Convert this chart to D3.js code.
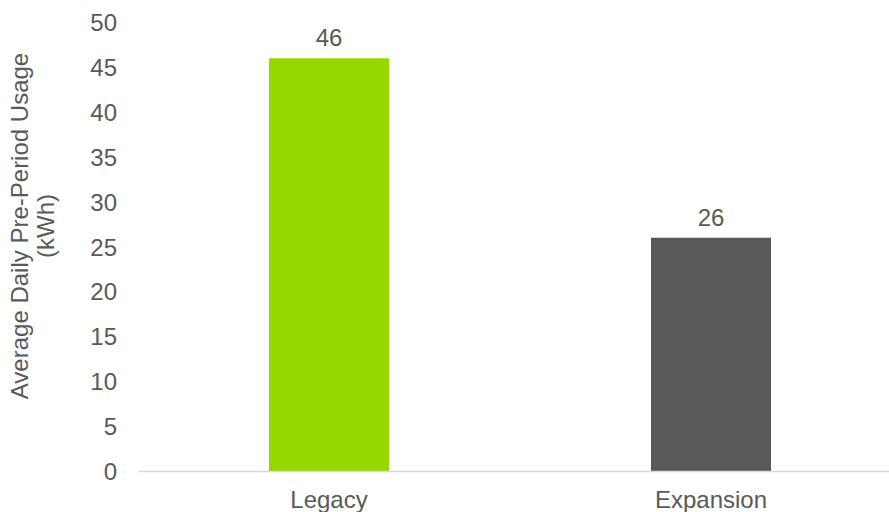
<!DOCTYPE html>
<html>
<head>
<meta charset="utf-8">
<script src="https://cdn.jsdelivr.net/npm/d3@7"></script>
<style>
  html, body { margin: 0; padding: 0; background: #fff; }
  svg text { font-family: "Liberation Sans", Arial, sans-serif; fill: #595959; }
</style>
</head>
<body>
<svg id="chart" width="889" height="512"></svg>
<script>
// Average daily pre-period usage by group
const categories = ["Legacy", "Expansion"];
const usageValues = [46, 26];
const barColors = ["#97D700", "#58595B"];
const yTicks = [0, 5, 10, 15, 20, 25, 30, 35, 40, 45, 50];
const yTitleLines = ["Average Daily Pre-Period Usage", "(kWh)"];

const FONT = 24;
const svg = d3.select("#chart");

const x = d3.scaleBand()
  .domain(categories)
  .range([138, 902])
  .paddingInner(0.6859)
  .paddingOuter(0.34295);

const y = d3.scaleLinear()
  .domain([0, 50])
  .range([471, 22.4]);

// y-axis tick labels (no axis line, no tick marks)
const yAxis = d3.axisLeft(y).tickValues(yTicks).tickSize(0).tickPadding(0);
const gy = svg.append("g").attr("transform", "translate(117,0)").call(yAxis);
gy.attr("font-size", FONT).attr("font-family", null);
gy.select(".domain").remove();
gy.selectAll("text")
  .attr("fill", "#595959")
  .attr("dy", "0.35em");

// bars
svg.append("g").selectAll("rect")
  .data(usageValues)
  .join("rect")
  .attr("x", (d, i) => x(categories[i]))
  .attr("width", x.bandwidth())
  .attr("y", d => y(d))
  .attr("height", d => y(0) - y(d))
  .attr("fill", (d, i) => barColors[i]);

// baseline and category labels
const xAxis = d3.axisBottom(x).tickSize(0).tickPadding(20);
const gx = svg.append("g").attr("transform", `translate(0,${y(0)})`).call(xAxis);
gx.attr("font-size", FONT).attr("font-family", null);
gx.select(".domain").attr("stroke", "#D9D9D9").attr("stroke-width", 1.5);
gx.selectAll("text")
  .attr("fill", "#595959")
  .attr("dy", "0.71em");

// value labels
svg.append("g").selectAll("text")
  .data(usageValues)
  .join("text")
  .attr("x", (d, i) => x(categories[i]) + x.bandwidth() / 2)
  .attr("y", d => y(d) - 12)
  .attr("text-anchor", "middle")
  .attr("font-size", FONT)
  .text(d => d);

// y-axis title
const title = svg.append("text")
  .attr("transform", "translate(20,226) rotate(-90)")
  .attr("text-anchor", "middle")
  .attr("font-size", FONT);
title.selectAll("tspan")
  .data(yTitleLines)
  .join("tspan")
  .attr("x", 0)
  .attr("dy", (d, i) => i === 0 ? "0.35em" : "1.08em")
  .text(d => d);
</script>
</body>
</html>
